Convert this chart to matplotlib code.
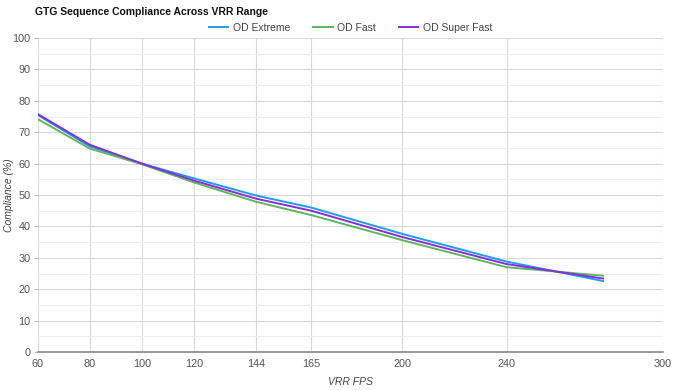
import numpy as np
import matplotlib
matplotlib.use("Agg")
import matplotlib.pyplot as plt
from matplotlib.ticker import MultipleLocator

plt.rcParams['font.family'] = ['Liberation Sans', 'DejaVu Sans']

# data
fps = [60, 80, 100, 120, 144, 165, 200, 240, 277]
od_extreme = [75.5, 65.5, 60.0, 55.3, 49.8, 46.0, 37.6, 28.8, 22.6]
od_fast = [74.2, 64.8, 59.8, 54.0, 47.8, 43.6, 35.6, 27.0, 24.3]
od_super_fast = [75.8, 66.0, 60.0, 54.6, 48.8, 45.0, 36.6, 28.0, 23.4]
xticks = [60, 80, 100, 120, 144, 165, 200, 240, 300]

fig = plt.figure(figsize=(6.75, 3.9), dpi=100)
ax = fig.add_axes([37.6/675, 1-352/390, (663-37.6)/675, (352-38)/390])

ax.plot(fps, od_extreme, color='#1e9cf0', lw=1.4, label='OD Extreme')
ax.plot(fps, od_fast, color='#5cb85c', lw=1.4, label='OD Fast')
ax.plot(fps, od_super_fast, color='#8a2be2', lw=1.4, label='OD Super Fast')

ax.set_xlim(60, 300)
ax.set_ylim(0, 100)
ax.set_xticks(xticks)
ax.yaxis.set_major_locator(MultipleLocator(10))
ax.yaxis.set_minor_locator(MultipleLocator(5))
ax.grid(True, which='major', color='#d9d9d9', lw=0.8)
ax.grid(True, which='minor', axis='y', color='#eeeeee', lw=0.8)
ax.set_axisbelow(True)
for s in ['top', 'right', 'left']:
    ax.spines[s].set_visible(False)
ax.spines['bottom'].set_color('#888888')
ax.spines['bottom'].set_linewidth(1.2)
ax.tick_params(axis='both', labelsize=7.8, colors='#555555', length=3, width=0.8)
ax.tick_params(axis='x', length=0, pad=5)
ax.tick_params(axis='y', which='minor', length=0)
ax.tick_params(axis='y', color='#bbbbbb', pad=2)

ax.set_xlabel('VRR FPS', fontsize=7.5, style='italic', color='#444444', labelpad=6)
ax.set_ylabel('Compliance (%)', fontsize=7.5, style='italic', color='#444444')
ax.yaxis.set_label_coords(-0.038, 0.5)

fig.text(35/675, 1-12/390, 'GTG Sequence Compliance Across VRR Range',
         fontsize=7.5, fontweight='bold', va='center', ha='left', color='#111111')
ax.legend(loc='center', bbox_to_anchor=(0.5, 1+10/314), ncol=3, frameon=False,
          fontsize=7.5, handlelength=1.9, handletextpad=0.4, columnspacing=2.2,
          labelcolor='#444444')

fig.savefig('out.png', dpi=100)
